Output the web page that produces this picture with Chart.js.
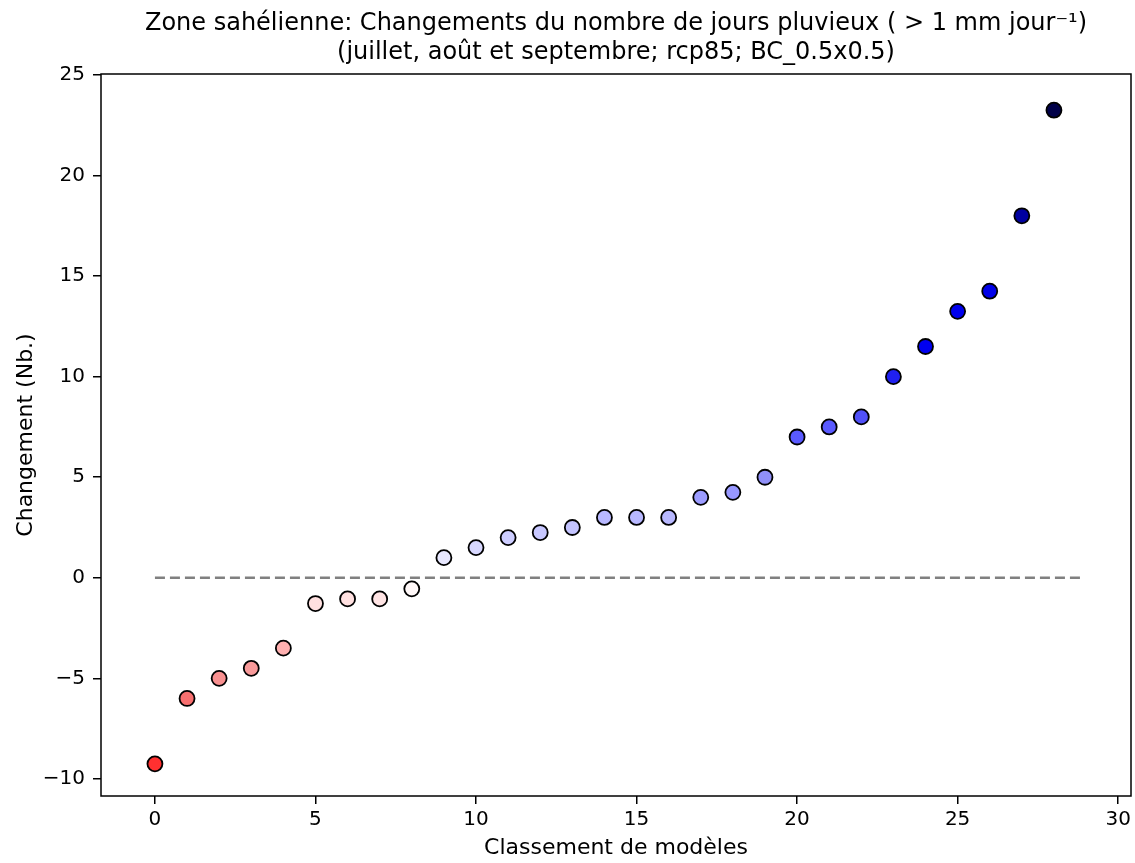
<!DOCTYPE html>
<html>
<head>
<meta charset="utf-8">
<script src="https://cdn.jsdelivr.net/npm/chart.js@4/dist/chart.umd.min.js"></script>
<style>
  html, body { margin: 0; padding: 0; background: #fff; }
  #wrap { width: 1135px; height: 863px; }
</style>
</head>
<body>
<div id="wrap"><canvas id="c"></canvas></div>
<script>
// model rank -> change in number of rainy days
const ranks = [0,1,2,3,4,5,6,7,8,9,10,11,12,13,14,15,16,17,18,19,20,21,22,23,24,25,26,27,28];
const changes = [-9.25,-6.0,-5.0,-4.5,-3.5,-1.28,-1.05,-1.05,-0.55,1.0,1.5,2.0,2.25,2.5,3.0,3.0,3.0,4.0,4.25,5.0,7.0,7.5,8.0,10.0,11.5,13.25,14.25,18.0,23.25];
const pointColors = [
  "#ff3030","#f87070","#f89090","#f89a9a","#ffb0b0",
  "#ffe0e0","#ffe0e0","#ffe4e4","#fff8f8",
  "#e8e8ff","#d8d8ff","#cdcdff","#c8c8ff","#c4c4ff",
  "#b8b8ff","#b8b8ff","#b8b8ff",
  "#9c9cff","#9898ff","#9090f8",
  "#5a5aff","#5a5aff","#5050f8",
  "#2020f0","#0000f0","#0000ee","#0000e8",
  "#0000a0","#000048"
];
const zeroLineX = [0, 28.9];
const xTicks = [0,5,10,15,20,25,30];
const yTicks = [-10,-5,0,5,10,15,20,25];

const pts = ranks.map((r, i) => ({ x: r, y: changes[i] }));

const frame = {
  id: "frame",
  afterDatasetsDraw(chart) {
    const { ctx, chartArea: a } = chart;
    ctx.save();
    ctx.strokeStyle = "#000";
    ctx.lineWidth = 1.5;
    ctx.strokeRect(a.left, a.top, a.right - a.left, a.bottom - a.top);
    ctx.restore();
  }
};

const font = "'DejaVu Sans', sans-serif";

new Chart(document.getElementById("c"), {
  type: "scatter",
  data: {
    datasets: [
      {
        type: "line",
        data: zeroLineX.map(x => ({ x, y: 0 })),
        borderColor: "#808080",
        borderWidth: 2.6,
        borderDash: [10, 5],
        pointRadius: 0,
        order: 2
      },
      {
        data: pts,
        backgroundColor: pointColors,
        borderColor: "#000",
        borderWidth: 1.8,
        pointRadius: 7.5,
        pointHoverRadius: 7.5,
        order: 1
      }
    ]
  },
  options: {
    responsive: true,
    maintainAspectRatio: false,
    animation: false,
    layout: { autoPadding: false, padding: { left: 0, right: 4, top: 0, bottom: 0 } },
    plugins: {
      legend: { display: false },
      tooltip: { enabled: false },
      title: {
        display: true,
        fullSize: false,
        text: [
          "Zone sahélienne: Changements du nombre de jours pluvieux ( > 1 mm jour⁻¹)",
          "(juillet, août et septembre; rcp85; BC_0.5x0.5)"
        ],
        color: "#000",
        font: { family: font, size: 24, weight: "normal", lineHeight: 1.2 },
        padding: { top: 9.5, bottom: 6.9 }
      }
    },
    scales: {
      x: {
        type: "linear",
        min: -1.68,
        max: 30.4,
        afterBuildTicks: s => { s.ticks = xTicks.map(v => ({ value: v })); },
        ticks: { color: "#000", font: { family: font, size: 20 }, padding: 4, maxRotation: 0 },
        grid: { drawOnChartArea: false, drawTicks: true, tickLength: 8, color: "#000", lineWidth: 1.5 },
        border: { display: false },
        title: { display: true, text: "Classement de modèles", color: "#000", font: { family: font, size: 22 }, padding: { top: 2, bottom: 2 } },
        afterFit: s => { s.height = 67; s.paddingLeft = 0; s.paddingRight = 0; }
      },
      y: {
        type: "linear",
        min: -10.85,
        max: 25.05,
        afterBuildTicks: s => { s.ticks = yTicks.map(v => ({ value: v })); },
        ticks: {
          color: "#000", font: { family: font, size: 20 }, padding: 8,
          callback: v => (v < 0 ? "\u2212" + Math.abs(v) : String(v))
        },
        grid: { drawOnChartArea: false, drawTicks: true, tickLength: 8, color: "#000", lineWidth: 1.5 },
        border: { display: false },
        title: { display: true, text: "Changement (Nb.)", color: "#000", font: { family: font, size: 22 }, padding: { top: 13, bottom: 13 } },
        afterFit: s => { s.width = 101; s.paddingTop = 0; s.paddingBottom = 0; }
      }
    }
  },
  plugins: [frame]
});
</script>
</body>
</html>
